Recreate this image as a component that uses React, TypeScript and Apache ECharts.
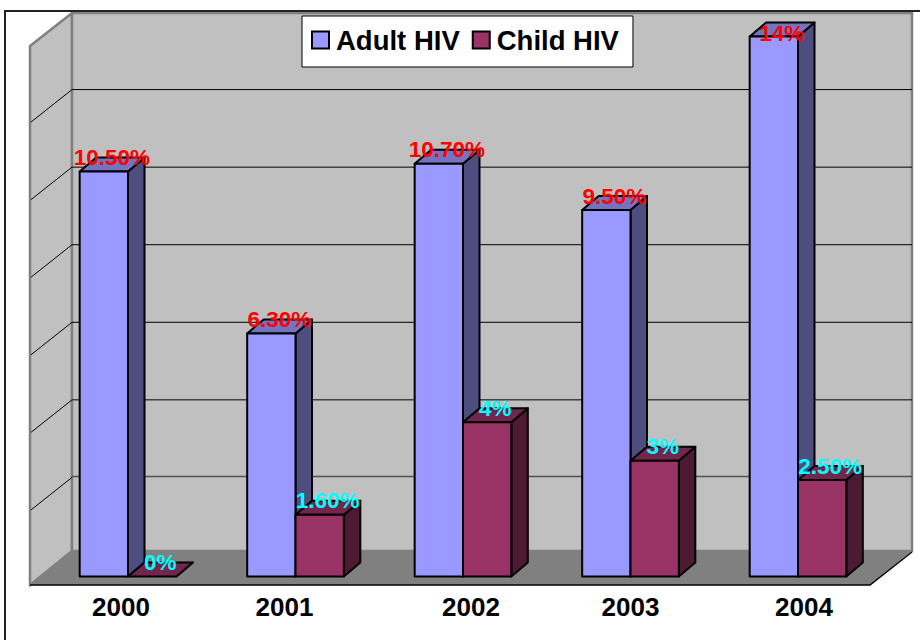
import React, { useEffect, useRef } from "react";
import * as echarts from "echarts";

const years = ["2000", "2001", "2002", "2003", "2004"];
const yearLabelShift = [-7, -11, 8, 0, 6];
const adultValues = [10.5, 6.3, 10.7, 9.5, 14];
const childValues = [0, 1.6, 4, 3, 2.5];
const adultLabels = ["10.50%", "6.30%", "10.70%", "9.50%", "14%"];
const childLabels = ["0%", "1.60%", "4%", "3%", "2.50%"];
const wallTicks = [2, 4, 6, 8, 10, 12];

const FONT = '"Liberation Sans", Arial, sans-serif';
const DX = 16.5;
const DY = 14;

function barSeries(
  name: string,
  values: number[],
  labels: string[],
  side: "left" | "right",
  colors: { front: string; top: string; side: string; label: string },
  z: number
) {
  return {
    name,
    type: "custom",
    xAxisIndex: 0,
    yAxisIndex: 0,
    z,
    silent: true,
    itemStyle: { color: colors.front },
    encode: { x: 0, y: 1 },
    data: values.map((v, i) => [i, v]),
    renderItem: (params: any, api: any) => {
      const i = api.value(0);
      const v = api.value(1);
      const [cx, top] = api.coord([i, v]);
      const [, base] = api.coord([i, 0]);
      const w = api.size([1, 0])[0] * 0.2885;
      const x0 = side === "left" ? cx - w : cx;
      const x1 = x0 + w;
      const stroke = { stroke: "#000", lineWidth: 2, lineJoin: "round" };
      const children: any[] = [];
      children.push({
        type: "polygon",
        shape: { points: [[x1, top], [x1 + DX, top - DY], [x1 + DX, base - DY], [x1, base]] },
        style: { fill: colors.side, ...stroke },
      });
      children.push({
        type: "polygon",
        shape: { points: [[x0, top], [x0 + DX, top - DY], [x1 + DX, top - DY], [x1, top]] },
        style: { fill: colors.top, ...stroke },
      });
      if (base - top > 0.5) {
        children.push({
          type: "rect",
          shape: { x: x0, y: top, width: w, height: base - top },
          style: { fill: colors.front, ...stroke },
        });
      }
      children.push({
        type: "text",
        x: (x0 + x1) / 2 + 8,
        y: Math.max(top - 14, 33),
        z2: 10,
        style: {
          text: labels[params.dataIndex],
          fill: colors.label,
          fontFamily: FONT,
          fontWeight: "bold",
          fontSize: 22.5,
          align: "center",
          verticalAlign: "middle",
        },
      });
      return { type: "group", children };
    },
  };
}

function buildOption() {
  return {
    animation: false,
    backgroundColor: "#ffffff",
    grid: [
      { left: 44.25, width: 837.5, top: 36.5, height: 540 },
      { left: 72, width: 840, top: 12, height: 543 },
    ],
    xAxis: [
      {
        gridIndex: 0,
        type: "category",
        data: years.map((y, i) => {
          const s = yearLabelShift[i] * 2;
          return {
            value: y,
            textStyle: { padding: s < 0 ? [0, -s, 0, 0] : [0, 0, 0, s] },
          };
        }),
        axisLine: { show: false },
        axisTick: { show: false },
        axisLabel: {
          margin: 17,
          color: "#000",
          fontFamily: FONT,
          fontWeight: "bold",
          fontSize: 26,
        },
      },
      { gridIndex: 1, type: "value", min: 0, max: 1, show: false },
    ],
    yAxis: [
      { gridIndex: 0, type: "value", min: 0, max: 14, show: false },
      { gridIndex: 1, type: "value", min: 0, max: 14, show: false },
    ],
    legend: {
      left: 302,
      top: 16,
      padding: [10, 14, 13, 9],
      backgroundColor: "#ffffff",
      borderColor: "#000",
      borderWidth: 1,
      itemWidth: 17,
      itemHeight: 17,
      itemGap: 12,
      icon: "rect",
      selectedMode: false,
      itemStyle: { borderColor: "#000", borderWidth: 2 },
      textStyle: {
        color: "#000",
        fontFamily: FONT,
        fontWeight: "bold",
        fontSize: 27.5,
        padding: [0, 0, 0, 2],
      },
      data: ["Adult HIV", "Child HIV"],
    },
    graphic: [
      {
        type: "polygon",
        z: 0,
        silent: true,
        shape: { points: [[30, 46], [72, 13], [72, 551], [30, 585]] },
        style: { fill: "#c0c0c0", stroke: "#808080", lineWidth: 2.5 },
      },
      {
        type: "rect",
        z: 0,
        silent: true,
        shape: { x: 72, y: 13, width: 840, height: 538 },
        style: { fill: "#c0c0c0", stroke: "#808080", lineWidth: 2.5 },
      },
      {
        type: "polygon",
        z: 0,
        silent: true,
        shape: { points: [[30, 585], [72, 551], [912, 551], [870, 585]] },
        style: { fill: "#808080" },
      },
      {
        type: "polyline",
        z: 1,
        silent: true,
        shape: { points: [[30, 585], [870, 585], [912, 552]] },
        style: { fill: "none", stroke: "#000", lineWidth: 1.5 },
      },
      {
        type: "polyline",
        z: 1,
        silent: true,
        shape: { points: [[5, 640], [5, 11], [920, 11]] },
        style: { fill: "none", stroke: "#222", lineWidth: 2 },
      },
    ],
    series: [
      {
        type: "custom",
        xAxisIndex: 1,
        yAxisIndex: 1,
        z: 1,
        silent: true,
        encode: { x: 0, y: 1 },
        data: wallTicks.map((t) => [0, t]),
        renderItem: (params: any, api: any) => {
          const [x0, y] = api.coord([0, api.value(1)]);
          const [x1] = api.coord([1, api.value(1)]);
          const lowest = params.dataIndex === 0;
          return {
            type: "group",
            children: [
              {
                type: "line",
                shape: { x1: 31, y1: y + 32.5, x2: x0, y2: y },
                style: { stroke: "#000", lineWidth: 1 },
              },
              {
                type: "line",
                shape: { x1: x0, y1: lowest ? y - 1 : y, x2: x1, y2: lowest ? y - 1 : y },
                style: { stroke: lowest ? "#505050" : "#000", lineWidth: lowest ? 1.5 : 1 },
              },
            ],
          };
        },
      },
      barSeries(
        "Adult HIV",
        adultValues,
        adultLabels,
        "left",
        { front: "#9999ff", top: "#7373bf", side: "#4d4d80", label: "#ff0000" },
        3
      ),
      barSeries(
        "Child HIV",
        childValues,
        childLabels,
        "right",
        { front: "#993366", top: "#73264d", side: "#4d1a33", label: "#00ffff" },
        4
      ),
    ],
  };
}

export default function App() {
  const ref = useRef<HTMLDivElement>(null);
  useEffect(() => {
    if (!ref.current) return;
    const chart = echarts.init(ref.current, undefined, { renderer: "svg" });
    chart.setOption(buildOption() as any);
    return () => chart.dispose();
  }, []);
  return (
    <div
      ref={ref}
      style={{ position: "fixed", left: 0, top: 0, width: 920, height: 640 }}
    />
  );
}
